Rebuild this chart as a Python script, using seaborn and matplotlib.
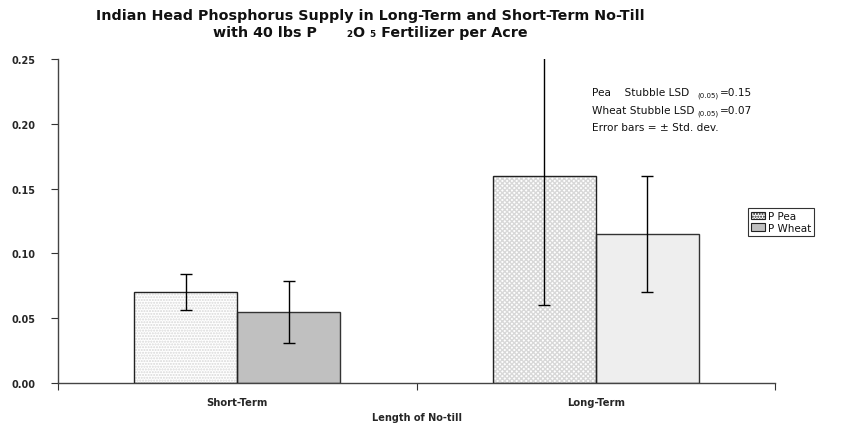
import matplotlib
matplotlib.use("Agg")
import matplotlib.pyplot as plt
from matplotlib.patches import Patch, Rectangle
import pandas as pd
import seaborn as sns

# -- Data -----------------------------------
categories = ["Short-Term", "Long-Term"]
crops      = ["P Pea", "P Wheat"]
pea_mean   = [0.070, 0.160]
pea_sd     = [0.014, 0.100]
wheat_mean = [0.055, 0.115]
wheat_sd   = [0.024, 0.045]
yticks     = [0.00, 0.05, 0.10, 0.15, 0.20, 0.25]

df = pd.DataFrame({
    "length": categories * 2,
    "crop":   [crops[0]] * 2 + [crops[1]] * 2,
    "P":      pea_mean + wheat_mean,
    "sd":     pea_sd + wheat_sd,
})

sns.set_theme(style="white")
# the reference text is wide, DejaVu Sans matches its widths best
plt.rcParams["font.family"] = ["DejaVu Sans"]
plt.rcParams["text.color"] = "#111111"

fig = plt.figure(figsize=(8.64, 4.31), dpi=100)
ax = fig.add_axes([58 / 864, 1 - 384 / 431, (775 - 58) / 864, (384 - 60) / 431])

sns.barplot(
    data=df, x="length", y="P", hue="crop", order=categories, hue_order=crops,
    palette=["white", "#c0c0c0"], width=0.575, gap=0, errorbar=None,
    edgecolor="black", linewidth=1.0, legend=False, ax=ax,
)

# -- Bar styling ----------------------------
pea_bars, wheat_bars = ax.containers[0], ax.containers[1]
hatches = ["......", "xxxxxxx"]
for bar, h in zip(pea_bars, hatches):
    bar.set_facecolor("white")
    bar.set_edgecolor("#d8d8d8")
    bar.set_linewidth(0)
    bar.set_hatch(h)
    ax.add_patch(Rectangle(bar.get_xy(), bar.get_width(), bar.get_height(),
                           fill=False, edgecolor="#222222", linewidth=1.0, zorder=3))
wheat_colors = ["#c0c0c0", "#eeeeee"]
for bar, c in zip(wheat_bars, wheat_colors):
    bar.set_facecolor(c)
    bar.set_edgecolor("#333333")

# -- Error bars -----------------------------
for bars, sds in [(pea_bars, pea_sd), (wheat_bars, wheat_sd)]:
    xs = [b.get_x() + b.get_width() / 2 for b in bars]
    ys = [b.get_height() for b in bars]
    ax.errorbar(xs, ys, yerr=sds, fmt="none", ecolor="black",
                elinewidth=1.0, capsize=4, capthick=1.0, zorder=4)

# -- Axes -----------------------------------
ax.set_xlim(-0.5, 1.5)
ax.set_ylim(0, 0.25)
ax.set_yticks(yticks)
ax.set_yticklabels([f"{t:.2f}" for t in yticks], fontsize=7, fontweight="bold")
ax.set_xticks([-0.5, 0.5, 1.5])
ax.set_xticklabels([])
ax.set_xticks([0, 1], minor=True)
ax.set_xticklabels(categories, minor=True, fontsize=7.2, fontweight="bold")
ax.tick_params(axis="x", which="major", direction="out", length=5, width=0.8,
               color="#333333", bottom=True)
ax.tick_params(axis="x", which="minor", length=0, pad=10)
ax.tick_params(axis="y", direction="out", length=5, width=0.8, color="#333333",
               left=True, pad=11)
ax.set_xlabel("Length of No-till", fontsize=7, fontweight="bold", labelpad=4)
ax.set_ylabel("")
for s in ["top", "right"]:
    ax.spines[s].set_visible(False)
for s in ["left", "bottom"]:
    ax.spines[s].set_color("#444444")
    ax.spines[s].set_linewidth(1.0)

# -- Title ----------------------------------
fig.text(370 / 864, 1 - 16 / 431,
         "Indian Head Phosphorus Supply in Long-Term and Short-Term No-Till",
         ha="center", va="center", fontsize=10.3, fontweight="bold")
fig.text(370 / 864, 1 - 33 / 431,
         "with 40 lbs P      \u2082O \u2085 Fertilizer per Acre",
         ha="center", va="center", fontsize=10.3, fontweight="bold")

# -- Notes ----------------------------------
notes = [("Pea    Stubble LSD", "=0.15", 93), ("Wheat Stubble LSD", "=0.07", 111)]
for txt, val, y in notes:
    fig.text(592 / 864, 1 - y / 431, txt, ha="left", va="center", fontsize=7.6)
    fig.text(697 / 864, 1 - (y + 3) / 431, "(0.05)", ha="left", va="center", fontsize=5)
    fig.text(720 / 864, 1 - y / 431, val, ha="left", va="center", fontsize=7.6)
fig.text(592 / 864, 1 - 128 / 431, "Error bars = \u00b1 Std. dev.",
         ha="left", va="center", fontsize=7.6)

# -- Legend ---------------------------------
handles = [
    Patch(facecolor="white", edgecolor="#222222", hatch="......", linewidth=0.8, label=crops[0]),
    Patch(facecolor="#c0c0c0", edgecolor="#222222", linewidth=0.8, label=crops[1]),
]
leg = fig.legend(handles=handles, loc="upper left",
                 bbox_to_anchor=(748 / 864, 1 - 209 / 431), fontsize=7.5,
                 frameon=True, fancybox=False, handlelength=1.3, handleheight=0.8,
                 handletextpad=0.3, labelspacing=0.15, borderpad=0.3, borderaxespad=0)
leg.get_frame().set_edgecolor("black")
leg.get_frame().set_linewidth(0.8)

fig.savefig("out.png", dpi=100)
